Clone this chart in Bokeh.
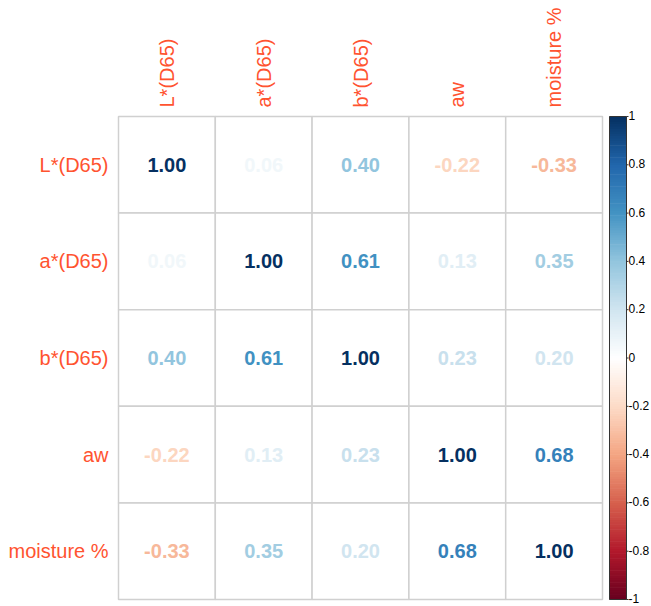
import numpy as np
from bokeh.plotting import figure
from bokeh.models import Range1d, ColumnDataSource
from bokeh.core.properties import value
from bokeh.embed import file_html
from bokeh.resources import INLINE

# correlation matrix
variables = ["L*(D65)", "a*(D65)", "b*(D65)", "aw", "moisture %"]
corr = [
    [1.00, 0.06, 0.40, -0.22, -0.33],
    [0.06, 1.00, 0.61, 0.13, 0.35],
    [0.40, 0.61, 1.00, 0.23, 0.20],
    [-0.22, 0.13, 0.23, 1.00, 0.68],
    [-0.33, 0.35, 0.20, 0.68, 1.00],
]
legend_ticks = [1, 0.8, 0.6, 0.4, 0.2, 0, -0.2, -0.4, -0.6, -0.8, -1]
legend_labels = ["1", "0.8", "0.6", "0.4", "0.2", "0", "-0.2", "-0.4", "-0.6", "-0.8", "-1"]

# diverging red-blue palette anchors, from -1 to 1
rdbu = ["#67001F", "#B2182B", "#D6604D", "#F4A582", "#FDDBC7", "#FFFFFF",
        "#D1E5F0", "#92C5DE", "#4393C3", "#2166AC", "#053061"]


def hex_to_rgb(h):
    return np.array([int(h[i:i + 2], 16) for i in (1, 3, 5)], dtype=float)


anchors = np.array([hex_to_rgb(c) for c in rdbu])


def color_for(v):
    t = (v + 1) / 2 * (len(rdbu) - 1)
    i = int(min(max(np.floor(t), 0), len(rdbu) - 2))
    f = t - i
    rgb = anchors[i] * (1 - f) + anchors[i + 1] * f
    return "#%02x%02x%02x" % tuple(int(round(c)) for c in rgb)


W, H = 651, 606
gx0, gy0 = 118, 116        # top-left corner of the grid (px)
cw, ch = 96.8, 96.6        # cell size (px)
n = len(variables)
label_color = "#FF5330"
font = "Liberation Sans"

p = figure(width=W, height=H, output_backend="svg", toolbar_location=None,
           x_range=Range1d(0, W), y_range=Range1d(H, 0),
           min_border=0, outline_line_color=None)
p.axis.visible = False
p.grid.visible = False
p.background_fill_color = "white"
p.border_fill_color = "white"

# cells and numbers
xs, ys, txt, cols = [], [], [], []
for r in range(n):
    for c in range(n):
        v = corr[r][c]
        xs.append(gx0 + (c + 0.5) * cw)
        ys.append(gy0 + (r + 0.5) * ch)
        txt.append("%.2f" % v)
        cols.append(color_for(v))
src = ColumnDataSource(dict(x=xs, y=ys, t=txt, c=cols))
p.rect("x", "y", width=cw, height=ch, source=src, fill_color="white",
       line_color="#d0d0d0", line_width=1.5)
p.text("x", "y", text="t", text_color="c", source=src, text_align="center",
       text_baseline="middle", text_font=value(font), text_font_style="bold",
       text_font_size="20px")

# row labels
p.text(x=[gx0 - 10] * n, y=[gy0 + (r + 0.5) * ch for r in range(n)], text=variables,
       text_align="right", text_baseline="middle", text_color=label_color,
       text_font=value(font), text_font_size="20px")

# column labels (rotated)
p.text(x=[gx0 + (c + 0.5) * cw for c in range(n)], y=[gy0 - 9] * n, text=variables,
       angle=np.pi / 2, text_align="left", text_baseline="middle", text_color=label_color,
       text_font=value(font), text_font_size="20px")

# colour legend
bx0, bx1 = 609, 626
by_top, by_bot = gy0, gy0 + n * ch
steps = 200
vals = np.linspace(-1, 1, steps + 1)
mids = (vals[:-1] + vals[1:]) / 2
seg_h = (by_bot - by_top) / steps
p.rect(x=[(bx0 + bx1) / 2] * steps,
       y=[by_bot - (v + 1) / 2 * (by_bot - by_top) for v in mids],
       width=bx1 - bx0, height=seg_h + 0.6,
       fill_color=[color_for(v) for v in mids], line_color=None)
p.rect(x=[(bx0 + bx1) / 2], y=[(by_top + by_bot) / 2], width=bx1 - bx0,
       height=by_bot - by_top, fill_color=None, line_color="#333333", line_width=1)
tick_y = [by_bot - (v + 1) / 2 * (by_bot - by_top) for v in legend_ticks]
p.segment(x0=[bx1] * len(tick_y), y0=tick_y, x1=[bx1 + 2] * len(tick_y), y1=tick_y,
          line_color="#333333", line_width=1)
p.text(x=[bx1 + 2] * len(tick_y), y=tick_y, text=legend_labels, text_align="left",
       text_baseline="middle", y_offset=-1, text_color="black", text_font=value(font),
       text_font_size="12px")

open("out.html", "w").write(file_html(p, INLINE))
